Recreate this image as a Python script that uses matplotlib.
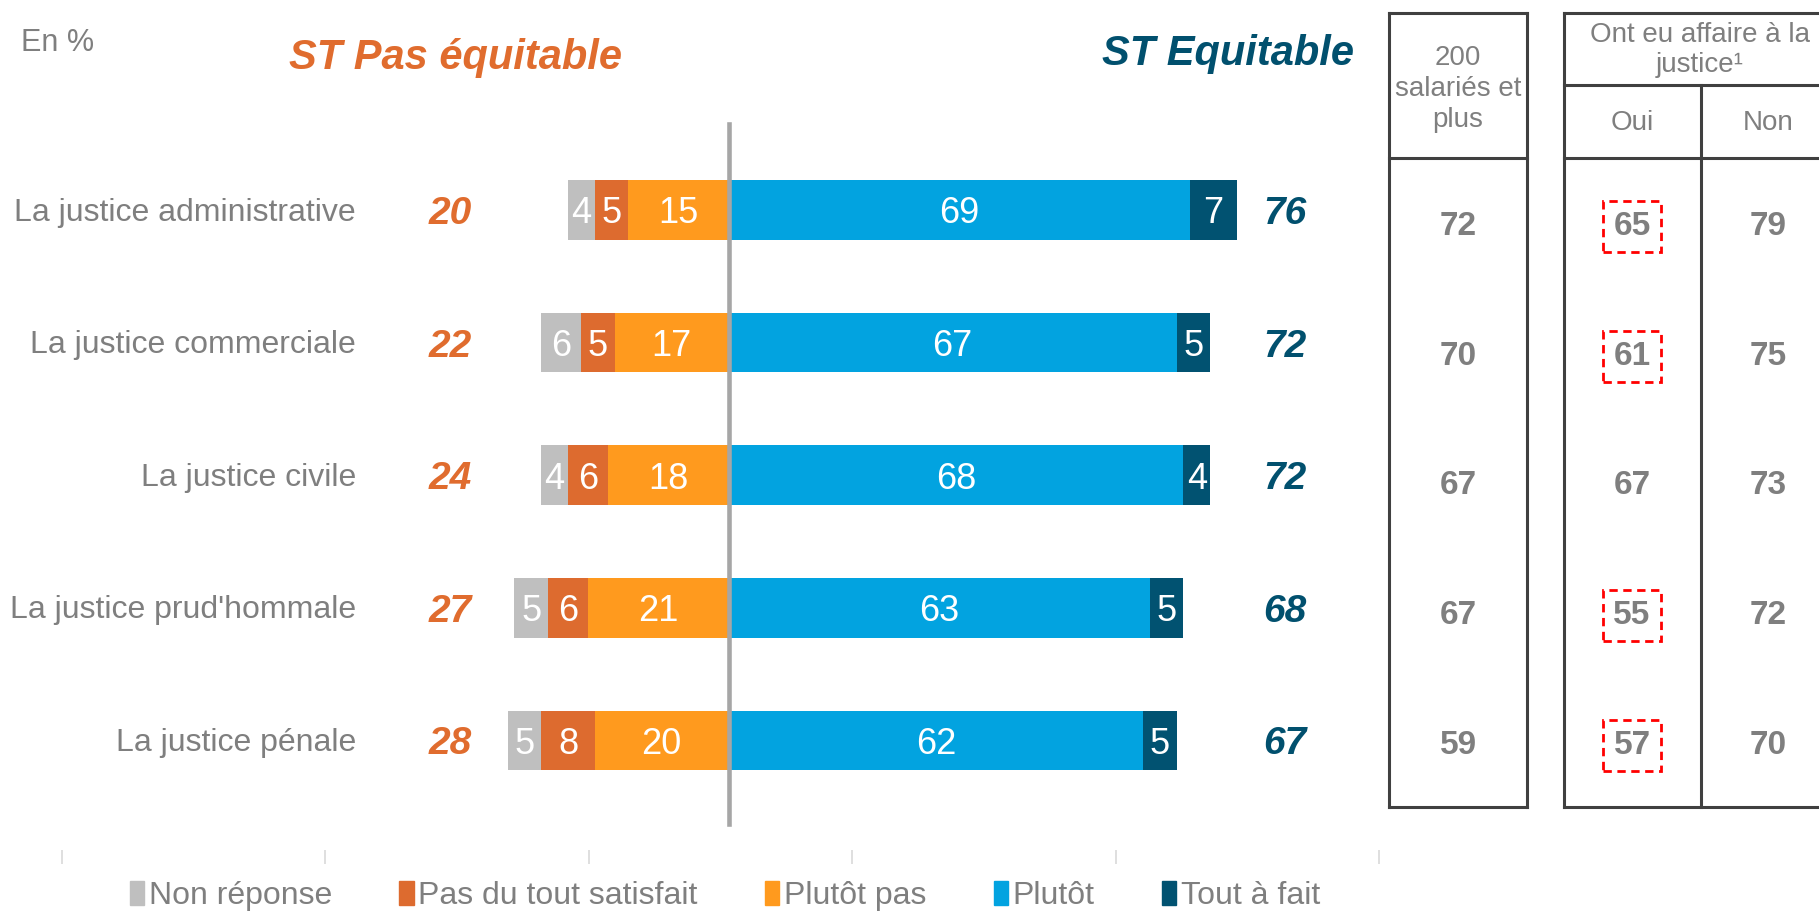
import numpy as np
import matplotlib.pyplot as plt
from matplotlib.patches import Patch
from matplotlib.lines import Line2D
from matplotlib.transforms import blended_transform_factory

plt.rcParams['font.family'] = ['Liberation Sans', 'DejaVu Sans']

categories = ['La justice administrative', 'La justice commerciale', 'La justice civile',
              "La justice prud'hommale", 'La justice pénale']
non_reponse = [4, 6, 4, 5, 5]
pas_du_tout = [5, 5, 6, 6, 8]
plutot_pas = [15, 17, 18, 21, 20]
plutot = [69, 67, 68, 63, 62]
tout_a_fait = [7, 5, 4, 5, 5]
st_pas_equitable = [20, 22, 24, 27, 28]
st_equitable = [76, 72, 72, 68, 67]

# tableau de droite
tab_200 = [72, 70, 67, 67, 59]
tab_oui = [65, 61, 67, 55, 57]
tab_non = [79, 75, 73, 72, 70]
oui_signif = [True, True, False, True, True]

legend_labels = ['Non réponse', 'Pas du tout satisfait', 'Plutôt pas', 'Plutôt', 'Tout à fait']
colors = ['#BFBFBF', '#DD6B2F', '#FF9A1E', '#02A3E0', '#015271']
grey = '#7F7F7F'
c_neg = '#E06C2E'
c_pos = '#01506E'

W, H = 1819, 911
fx = lambda x: x / W
fy = lambda y: 1 - y / H

fig = plt.figure(figsize=(W / 100, H / 100), dpi=100)

# axes principal : 6.69 px par point, zero a x=728.5 px
ppu = 6.69
x0 = 728.5
ax = fig.add_axes([0, fy(864), 1, fy(0) - fy(864)])
ax.set_xlim(-x0 / ppu, (W - x0) / ppu)
ax.set_ylim((864 - 210) / 132.6, -210 / 132.6)
ax.axis('off')

y = np.arange(len(categories))
npp = np.array(plutot_pas)
npt = np.array(pas_du_tout)
nnr = np.array(non_reponse)
npl = np.array(plutot)
ntf = np.array(tout_a_fait)

h = 0.45
segs = [
    (-nnr, -(npp + npt), non_reponse, colors[0]),
    (-npt, -npp, pas_du_tout, colors[1]),
    (-npp, 0, plutot_pas, colors[2]),
    (npl, 0, plutot, colors[3]),
    (ntf, npl, tout_a_fait, colors[4]),
]
for w, left, vals, c in segs:
    bars = ax.barh(y, w, left=left, height=h, color=c, edgecolor='none')
    for b, v in zip(bars, vals):
        ax.text(b.get_x() + b.get_width() / 2, b.get_y() + b.get_height() / 2, str(v),
                ha='center', va='center_baseline', color='white', fontsize=26)

ax.axvline(0, ymin=(864 - 824) / 864, ymax=(864 - 124) / 864, color='#A6A6A6', lw=3.3)

tr = blended_transform_factory(ax.transAxes, ax.transData)
for i, cat in enumerate(categories):
    ax.text(356 / W, i + 0.02, cat, transform=tr, ha='right', va='center', color=grey, fontsize=23)
    ax.text(450 / W, i, str(st_pas_equitable[i]), transform=tr, ha='center', va='center_baseline',
            color=c_neg, fontsize=28, fontweight='bold', fontstyle='italic')
    ax.text(1285 / W, i, str(st_equitable[i]), transform=tr, ha='center', va='center_baseline',
            color=c_pos, fontsize=28, fontweight='bold', fontstyle='italic')

fig.text(fx(455), fy(58), 'ST Pas équitable', ha='center', va='center', color=c_neg,
         fontsize=30, fontweight='bold', fontstyle='italic')
fig.text(fx(1228), fy(54), 'ST Equitable', ha='center', va='center', color=c_pos,
         fontsize=30, fontweight='bold', fontstyle='italic')
fig.text(fx(21), fy(43), 'En %', ha='left', va='center', color=grey, fontsize=22)

# graduations de l'axe 0-100
ax2 = fig.add_axes([0, fy(864), 1, fy(0) - fy(864)], frameon=False)
ax2.set_xlim(-61.5 / 13.175, (W - 61.5) / 13.175)
ax2.set_xticks(np.arange(0, 101, 20))
ax2.set_yticks([])
ax2.tick_params(axis='x', direction='in', length=10, width=1.2, color='#D9D9D9', labelbottom=False)
ax2.patch.set_visible(False)

# tableau
def line(xa, ya, xb, yb):
    fig.add_artist(Line2D([fx(xa), fx(xb)], [fy(ya), fy(yb)], transform=fig.transFigure,
                          color='#404040', lw=2.2, solid_capstyle='projecting'))

line(1389, 13, 1527, 13)
line(1389, 807, 1527, 807)
line(1389, 13, 1389, 807)
line(1527, 13, 1527, 807)
line(1389, 158, 1527, 158)
line(1564, 13, 1840, 13)
line(1564, 807, 1840, 807)
line(1564, 13, 1564, 807)
line(1564, 85, 1840, 85)
line(1564, 158, 1840, 158)
line(1701, 85, 1701, 807)

fig.text(fx(1458), fy(89), '200\nsalariés et\nplus', ha='center', va='center', color=grey,
         fontsize=20, linespacing=1.25)
fig.text(fx(1700), fy(50), 'Ont eu affaire à la\njustice¹', ha='center', va='center', color=grey,
         fontsize=20, linespacing=1.22)
fig.text(fx(1632), fy(123), 'Oui', ha='center', va='center', color=grey, fontsize=20)
fig.text(fx(1768), fy(123), 'Non', ha='center', va='center', color=grey, fontsize=20)

for i in range(len(categories)):
    yy = 158 + 129.8 * (i + 0.5)
    fig.text(fx(1458), fy(yy), str(tab_200[i]), ha='center', va='center_baseline', color=grey,
             fontsize=24, fontweight='bold')
    bb = None
    if oui_signif[i]:
        bb = dict(boxstyle='square,pad=0.3', fc='none', ec='#FF0000', lw=2, ls=(0, (3, 2)))
    fig.text(fx(1632), fy(yy), str(tab_oui[i]), ha='center', va='center_baseline', color=grey,
             fontsize=24, fontweight='bold', bbox=bb)
    fig.text(fx(1768), fy(yy), str(tab_non[i]), ha='center', va='center_baseline', color=grey,
             fontsize=24, fontweight='bold')

handles = [Patch(color=c) for c in colors]
fig.legend(handles, legend_labels, loc='center', bbox_to_anchor=(fx(725), fy(896)), ncol=5,
           frameon=False, fontsize=23, labelcolor=grey, handlelength=0.45, handleheight=0.75,
           handletextpad=0.15, columnspacing=2.1, borderpad=0, borderaxespad=0)

fig.savefig('out.png', dpi=100)
